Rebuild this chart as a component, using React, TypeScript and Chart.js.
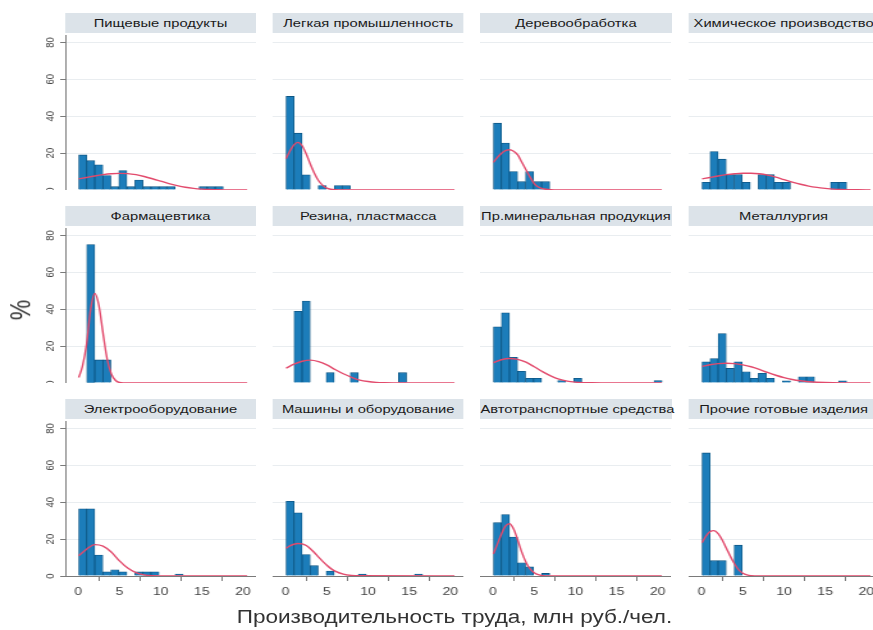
import React, { useEffect, useRef } from "react";
import { Chart, registerables } from "chart.js";

Chart.register(...registerables);

// ---------------- data ----------------
const PANEL_TITLES = [
  "Пищевые продукты",
  "Легкая промышленность",
  "Деревообработка",
  "Химическое производство",
  "Фармацевтика",
  "Резина, пластмасса",
  "Пр.минеральная продукция",
  "Металлургия",
  "Электрооборудование",
  "Машины и оборудование",
  "Автотранспортные средства",
  "Прочие готовые изделия",
];

const X_TITLE = "Производительность труда, млн руб./чел.";
const Y_TITLE = "%";
const X_TICKS = [0, 5, 10, 15, 20];
const Y_TICKS = [0, 20, 40, 60, 80];

// histogram bin centres (млн руб./чел.)
const BIN_CENTERS = [0.54, 1.51, 2.49, 3.46, 4.44, 5.41, 6.39, 7.36, 8.34, 9.31, 10.29, 11.26, 12.24, 13.21, 14.19, 15.16, 16.14, 17.11, 18.09, 19.06, 20.04];

// bar heights, % (one value per bin)
const barsFood = [19.0, 15.9, 13.6, 7.8, 1.8, 10.5, 1.8, 5.4, 1.8, 1.8, 1.8, 1.8, 0, 0, 0, 1.8, 1.8, 1.8, 0, 0, 0];
const barsLight = [50.7, 30.8, 8.2, 0, 2.4, 0, 2.4, 2.4, 0, 0, 0, 0, 0, 0, 0, 0, 0, 0, 0, 0, 0];
const barsWood = [36.2, 25.4, 10.0, 4.5, 10.0, 4.5, 4.5, 0, 0, 0, 0, 0, 0, 0, 0, 0, 0, 0, 0, 0, 0];
const barsChem = [4.2, 20.8, 16.7, 8.3, 8.3, 4.2, 0, 8.3, 8.3, 4.2, 4.2, 0, 0, 0, 0, 0, 4.2, 4.2, 0, 0, 0];
const barsPharma = [0, 75.0, 12.5, 12.5, 0, 0, 0, 0, 0, 0, 0, 0, 0, 0, 0, 0, 0, 0, 0, 0, 0];
const barsRubber = [0, 38.9, 44.4, 0, 0, 5.6, 0, 0, 5.6, 0, 0, 0, 0, 0, 5.6, 0, 0, 0, 0, 0, 0];
const barsMineral = [30.4, 38.0, 13.9, 6.3, 2.5, 2.5, 0, 0, 1.3, 0, 2.5, 0, 0, 0, 0, 0, 0, 0, 0, 0, 1.3];
const barsMetal = [11.5, 13.3, 26.8, 7.9, 11.5, 6.1, 2.5, 5.2, 2.5, 0, 1.2, 0, 3.4, 3.4, 0, 0, 0, 1.2, 0, 0, 0];
const barsElectro = [36.4, 36.4, 11.4, 2.3, 3.4, 2.3, 0, 2.3, 2.3, 2.3, 0, 0, 1.1, 0, 0, 0, 0, 0, 0, 0, 0];
const barsMachines = [40.5, 34.2, 11.6, 5.6, 0, 2.7, 0, 0, 0, 1.0, 0, 0, 0, 0, 0, 0, 1.0, 0, 0, 0, 0];
const barsAuto = [28.9, 33.3, 21.1, 7.2, 5.0, 0, 1.4, 0, 0, 0, 0, 0, 0, 0, 0, 0, 0, 0, 0, 0, 0];
const barsOther = [66.7, 8.3, 8.3, 0, 16.7, 0, 0, 0, 0, 0, 0, 0, 0, 0, 0, 0, 0, 0, 0, 0, 0];

// density curves (x, %)
const curveXFood = [0.05, 1, 2, 3, 4, 5, 6, 7, 8, 9, 10, 11, 12, 13, 14, 15, 16, 17, 18, 19, 20.5];
const curveYFood = [6.0, 6.8, 7.6, 8.3, 8.8, 9.0, 8.9, 8.3, 7.3, 6.1, 4.8, 3.5, 2.4, 1.5, 0.9, 0.5, 0.25, 0.1, 0.05, 0, 0];
const curveXLight = [0.05, 0.5, 1, 1.5, 2, 2.5, 3, 3.5, 4, 4.5, 5, 6, 7, 8, 20.5];
const curveYLight = [17, 21, 24.5, 25.8, 24, 19.5, 14, 9, 5, 2.5, 1, 0.1, 0, 0, 0];
const curveXWood = [0.05, 0.5, 1, 1.5, 2, 2.5, 3, 3.5, 4, 4.5, 5, 5.5, 6, 7, 8, 20.5];
const curveYWood = [15, 17.5, 19.8, 21.3, 21.8, 21, 19, 15, 11, 7, 3.5, 1.6, 0.7, 0.1, 0, 0];
const curveXChem = [0.05, 1, 2, 3, 4, 5, 6, 7, 8, 9, 10, 11, 12, 13, 14, 15, 16, 17, 18, 19, 20.5];
const curveYChem = [6.0, 6.8, 7.6, 8.3, 8.8, 9.1, 9.1, 8.8, 8.1, 7.0, 5.6, 4.3, 3.1, 2.1, 1.4, 0.9, 0.5, 0.3, 0.15, 0.1, 0];
const curveXPharma = [0.05, 0.5, 1, 1.5, 2, 2.5, 3, 3.5, 4, 4.5, 5, 6, 20.5];
const curveYPharma = [3, 9, 21, 40, 48.5, 42, 27, 13, 5, 1.5, 0.3, 0, 0];
const curveXRubber = [0.05, 1, 2, 3, 4, 5, 6, 7, 8, 9, 10, 11, 12, 14, 20.5];
const curveYRubber = [8, 10.2, 11.8, 12.4, 11.6, 9.8, 7.3, 5, 3.1, 1.6, 0.8, 0.35, 0.15, 0, 0];
const curveXMineral = [0.05, 1, 2, 3, 4, 5, 6, 7, 8, 9, 10, 11, 12, 14, 20.5];
const curveYMineral = [11, 12.6, 13.3, 12.8, 11.3, 8.8, 6.2, 3.9, 2.1, 1.0, 0.45, 0.2, 0.1, 0, 0];
const curveXMetal = [0.05, 1, 2, 3, 4, 5, 6, 7, 8, 9, 10, 11, 12, 13, 14, 16, 18, 20.5];
const curveYMetal = [9, 9.9, 10.5, 10.7, 10.5, 9.8, 8.8, 7.4, 5.7, 4.2, 2.9, 1.9, 1.2, 0.7, 0.4, 0.1, 0, 0];
const curveXElectro = [0.05, 1, 2, 3, 4, 5, 6, 7, 8, 9, 10, 12, 20.5];
const curveYElectro = [11, 14.5, 17, 16.2, 13, 8.2, 4.3, 1.8, 0.6, 0.15, 0.05, 0, 0];
const curveXMachines = [0.05, 0.5, 1, 1.5, 2, 2.5, 3, 3.5, 4, 4.5, 5, 5.5, 6, 7, 8, 9, 20.5];
const curveYMachines = [15, 16.3, 17.2, 17.6, 17.4, 16.5, 14.8, 12.6, 10.2, 7.9, 5.8, 4, 2.6, 1, 0.3, 0.1, 0];
const curveXAuto = [0.05, 0.5, 1, 1.5, 2, 2.5, 3, 3.5, 4, 4.5, 5, 5.5, 6, 7, 20.5];
const curveYAuto = [12, 17, 22.5, 27, 28.3, 25.5, 19.5, 12.8, 7.5, 3.8, 1.8, 0.7, 0.2, 0, 0];
const curveXOther = [0.05, 0.5, 1, 1.5, 2, 2.5, 3, 3.5, 4, 4.5, 5, 5.5, 6, 7, 20.5];
const curveYOther = [18, 21.5, 24, 24.6, 23, 19.5, 15, 10.5, 6.5, 3.3, 1.5, 0.6, 0.2, 0, 0];

const PANEL_BARS = [barsFood, barsLight, barsWood, barsChem, barsPharma, barsRubber, barsMineral, barsMetal, barsElectro, barsMachines, barsAuto, barsOther];
const PANEL_CX = [curveXFood, curveXLight, curveXWood, curveXChem, curveXPharma, curveXRubber, curveXMineral, curveXMetal, curveXElectro, curveXMachines, curveXAuto, curveXOther];
const PANEL_CY = [curveYFood, curveYLight, curveYWood, curveYChem, curveYPharma, curveYRubber, curveYMineral, curveYMetal, curveYElectro, curveYMachines, curveYAuto, curveYOther];

// ---------------- layout / style ----------------
const STRETCH = 1.28; // the figure is drawn narrower and stretched horizontally
const PAGE_W = 873;
const PAGE_H = 630;
const X_MIN = -1.58;
const X_MAX = 21.58;
const Y_MAX = 84;
const COL_LEFT = [65, 272.7, 480.4, 688.1]; // page px
const PLOT_W = 191; // page px
const ROW_ZERO = [190, 383, 576]; // page px
const PLOT_H = 155;
const YW = 30; // unstretched px
const XH = 32;
const FONT = '"Liberation Sans", Arial, sans-serif';
const BAR_FILL = "#1c7dba";
const BAR_EDGE = "#0d5684";
const RED = "#e24a6c";
const GRID = "#e9edf0";
const AXIS = "#7a7a7a";
const STRIP = "#dce3e9";

const yLabelPlugin = {
  id: "yRotLabels",
  afterDraw(chart: any) {
    const s = chart.scales.y;
    const ctx = chart.ctx;
    ctx.save();
    ctx.fillStyle = "#444";
    ctx.font = `9.5px ${FONT}`;
    ctx.textAlign = "center";
    ctx.textBaseline = "middle";
    for (const v of Y_TICKS) {
      const py = s.getPixelForValue(v);
      ctx.save();
      ctx.translate(s.right - 11.7, py);
      ctx.rotate(-Math.PI / 2);
      ctx.fillText(String(v), 0, 0);
      ctx.restore();
    }
    ctx.restore();
  },
};

function panelGeom(i: number) {
  const c = i % 4;
  const r = Math.floor(i / 4);
  const yw = c === 0 ? YW : 0;
  const plotLeftU = COL_LEFT[c] / STRETCH;
  const plotWU = PLOT_W / STRETCH;
  const width = Math.round(yw + plotWU);
  const height = PLOT_H + (r === 2 ? XH : 0);
  const top = ROW_ZERO[r] - PLOT_H;
  return { c, r, yw, left: plotLeftU - yw, width, height, top, plotLeftU, plotWU };
}

export default function App() {
  const refs = useRef<(HTMLCanvasElement | null)[]>([]);

  useEffect(() => {
    const charts: Chart[] = [];
    PANEL_TITLES.forEach((_, i) => {
      const cv = refs.current[i];
      if (!cv) return;
      const g = panelGeom(i);
      const showY = g.c === 0;
      const showX = g.r === 2;
      const chart = new Chart(cv, {
        type: "bar",
        data: {
          datasets: [
            {
              type: "line",
              data: PANEL_CX[i].map((x, k) => ({ x, y: PANEL_CY[i][k] })),
              borderColor: RED,
              borderWidth: 1.4,
              pointRadius: 0,
              cubicInterpolationMode: "monotone",
              fill: false,
              order: 0,
            } as any,
            {
              type: "bar",
              data: BIN_CENTERS.map((x, k) => ({ x, y: PANEL_BARS[i][k] })),
              backgroundColor: BAR_FILL,
              borderColor: BAR_EDGE,
              borderWidth: 0.8,
              barPercentage: 1,
              categoryPercentage: 1,
              order: 1,
            } as any,
          ],
        },
        options: {
          responsive: false,
          animation: false,
          events: [],
          layout: { padding: 0 },
          plugins: { legend: { display: false }, tooltip: { enabled: false }, title: { display: false } },
          scales: {
            x: {
              type: "linear",
              min: X_MIN,
              max: X_MAX,
              offset: false,
              display: showX,
              grid: { display: true, drawOnChartArea: false, drawTicks: true, tickLength: 5, tickColor: AXIS },
              border: { display: true, color: AXIS, width: 1 },
              ticks: { color: "#444", font: { size: 11, family: FONT }, padding: 4, maxRotation: 0, autoSkip: false },
              afterBuildTicks: (s: any) => {
                s.ticks = X_TICKS.map((v) => ({ value: v }));
              },
              afterFit: (s: any) => {
                s.height = showX ? XH : 0;
              },
            },
            y: {
              type: "linear",
              min: 0,
              max: Y_MAX,
              grid: { color: GRID, drawTicks: showY, tickLength: 4, tickColor: AXIS },
              border: { display: showY, color: AXIS, width: 1 },
              ticks: { display: false },
              afterBuildTicks: (s: any) => {
                s.ticks = Y_TICKS.map((v) => ({ value: v }));
              },
              afterFit: (s: any) => {
                s.width = g.yw;
              },
            },
          } as any,
        },
        plugins: showY ? [yLabelPlugin as any] : [],
      });
      charts.push(chart);
    });
    return () => charts.forEach((ch) => ch.destroy());
  }, []);

  const wU = PAGE_W / STRETCH;

  return (
    <div
      style={{
        position: "absolute",
        left: 0,
        top: 0,
        width: wU,
        height: PAGE_H,
        overflow: "hidden",
        background: "#ffffff",
        transform: `scaleX(${STRETCH})`,
        transformOrigin: "0 0",
        fontFamily: FONT,
      }}
    >
      {PANEL_TITLES.map((t, i) => {
        const g = panelGeom(i);
        return (
          <div
            key={"t" + i}
            style={{
              position: "absolute",
              left: g.plotLeftU,
              width: g.plotWU,
              top: ROW_ZERO[g.r] - 177,
              height: 20,
              lineHeight: "20px",
              background: STRIP,
              color: "#1a1a1a",
              fontSize: 11.5,
              textAlign: "center",
              whiteSpace: "nowrap",
            }}
          >
            {t}
          </div>
        );
      })}
      {PANEL_TITLES.map((_, i) => {
        const g = panelGeom(i);
        return (
          <canvas
            key={"c" + i}
            ref={(el) => {
              refs.current[i] = el;
            }}
            width={g.width}
            height={g.height}
            style={{ position: "absolute", left: g.left, top: g.top, width: g.width, height: g.height, display: "block" }}
          />
        );
      })}
      <div
        style={{
          position: "absolute",
          left: 454.5 / STRETCH,
          top: 617,
          transform: "translate(-50%, -50%)",
          fontSize: 17.6,
          color: "#333",
          whiteSpace: "nowrap",
        }}
      >
        {X_TITLE}
      </div>
      <div
        style={{
          position: "absolute",
          left: 20 / STRETCH,
          top: 310,
          transform: "translate(-50%, -50%) rotate(-90deg)",
          fontSize: 23,
          color: "#333",
          whiteSpace: "nowrap",
        }}
      >
        {Y_TITLE}
      </div>
    </div>
  );
}
